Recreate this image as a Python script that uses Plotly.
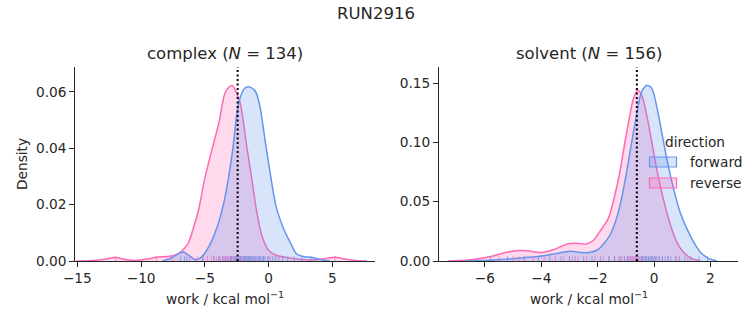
import plotly.graph_objects as go

# ---------------- data ----------------
# KDE curves (work in kcal/mol, density)
cf_x = [-8.3, -7.6, -7.0, -6.7, -6.3, -5.75, -5.4, -5.1, -4.5, -4.0, -3.55, -3.15, -2.8, -2.5,
        -2.25, -1.9, -1.6, -1.3, -1.05, -0.7, -0.3, 0.1, 0.6, 1.15, 1.7, 2.2, 2.8, 3.3, 3.8, 4.3, 4.8]
cf_y = [0.0, 0.0012, 0.0028, 0.0032, 0.0022, 0.0005, 0.0009, 0.0022, 0.0068, 0.0125, 0.0199, 0.0294,
        0.040, 0.052, 0.0577, 0.0612, 0.0618, 0.0613, 0.0603, 0.0553, 0.0435, 0.0318, 0.0190, 0.0117,
        0.0065, 0.0025, 0.0015, 0.0013, 0.0008, 0.0003, 0.0]

cr_x = [-15.1, -14.0, -13.0, -12.0, -11.2, -10.4, -9.5, -8.8, -8.0, -7.5, -7.0, -6.6, -6.3, -5.9,
        -5.5, -5.0, -4.35, -3.9, -3.43, -3.1, -2.85, -2.6, -2.3, -2.1, -1.73, -1.33, -0.94, -0.55,
        -0.05, 0.5, 0.9, 1.5, 2.2, 3.0, 3.8, 4.5, 5.2, 6.0, 6.8, 7.7]
cr_y = [0.0, 0.0001, 0.0005, 0.0012, 0.0005, 0.0002, 0.0007, 0.0013, 0.0016, 0.0019, 0.0028, 0.0045,
        0.0063, 0.0117, 0.018, 0.0294, 0.0412, 0.049, 0.0595, 0.0617, 0.0622, 0.0605, 0.0572, 0.053,
        0.041, 0.0294, 0.0176, 0.0093, 0.004, 0.0022, 0.0017, 0.0012, 0.0007, 0.0004, 0.0005, 0.0009,
        0.0013, 0.0007, 0.0002, 0.0]

sf_x = [-6.7, -6.0, -5.47, -5.0, -4.64, -4.05, -3.46, -2.98, -2.6, -2.3, -2.0, -1.86, -1.56, -1.33,
        -1.15, -0.97, -0.79, -0.62, -0.44, -0.26, -0.08, 0.09, 0.27, 0.45, 0.69, 0.92, 1.16, 1.4,
        1.63, 1.93, 2.23]
sf_y = [0.0, 0.0004, 0.0012, 0.0020, 0.0028, 0.0040, 0.0064, 0.0082, 0.0072, 0.0072, 0.0095, 0.0125,
        0.0219, 0.036, 0.0528, 0.0753, 0.1005, 0.123, 0.1427, 0.148, 0.1455, 0.131, 0.109, 0.0865,
        0.0612, 0.0416, 0.0275, 0.0163, 0.0079, 0.0022, 0.0]

sr_x = [-7.3, -6.9, -6.42, -5.71, -5.2, -4.8, -4.5, -4.0, -3.6, -3.1, -2.75, -2.4, -2.15, -1.92,
        -1.62, -1.39, -1.21, -1.03, -0.88, -0.73, -0.58, -0.44, -0.26, -0.08, 0.09, 0.27, 0.51,
        0.75, 0.98, 1.28, 1.63]
sr_y = [0.0, 0.0004, 0.0012, 0.0042, 0.0075, 0.0088, 0.0086, 0.0071, 0.0092, 0.0142, 0.0149, 0.0143,
        0.0175, 0.025, 0.036, 0.0556, 0.0753, 0.1005, 0.12, 0.137, 0.144, 0.140, 0.123, 0.1005,
        0.078, 0.0584, 0.036, 0.0191, 0.0093, 0.0028, 0.0]

# rug samples (approximate positions)
cf_rug = [-6.9, -6.6, -6.4, -5.2, -4.3, -3.9, -3.6, -3.4, -3.2, -3.0, -2.9, -2.7, -2.6, -2.5, -2.4,
          -2.3, -2.2, -2.1, -2.0, -1.9, -1.85, -1.8, -1.7, -1.65, -1.6, -1.55, -1.5, -1.4, -1.35,
          -1.3, -1.2, -1.1, -1.0, -0.9, -0.8, -0.7, -0.6, -0.5, -0.4, -0.3, -0.1, 0.1, 0.3, 0.5,
          0.8, 1.1, 1.5, 2.0, 2.6, 3.3]
cr_rug = [-12.0, -8.8, -7.6, -6.2, -5.6, -5.1, -4.8, -4.5, -4.3, -4.1, -3.9, -3.8, -3.6, -3.5, -3.4,
          -3.3, -3.2, -3.1, -3.0, -2.95, -2.9, -2.85, -2.8, -2.7, -2.65, -2.6, -2.5, -2.4, -2.3,
          -2.2, -2.1, -2.0, -1.9, -1.8, -1.6, -1.4, -1.2, -1.0, -0.7, -0.4, 0.0, 0.6, 5.2]
sf_rug = [-5.8, -5.2, -4.6, -4.1, -3.7, -3.3, -3.0, -2.8, -2.5, -2.2, -1.9, -1.6, -1.4, -1.2, -1.05,
          -0.95, -0.85, -0.75, -0.65, -0.55, -0.45, -0.4, -0.35, -0.3, -0.25, -0.2, -0.15, -0.1,
          -0.05, 0.0, 0.05, 0.1, 0.2, 0.3, 0.4, 0.5, 0.6, 0.75, 0.9, 1.1, 1.3, 1.6, 1.9]
sr_rug = [-5.5, -5.0, -4.8, -4.6, -4.3, -3.9, -3.5, -3.2, -3.0, -2.9, -2.7, -2.4, -2.1, -1.8, -1.6,
          -1.4, -1.25, -1.15, -1.05, -0.95, -0.9, -0.85, -0.8, -0.75, -0.7, -0.65, -0.6, -0.55,
          -0.5, -0.45, -0.4, -0.3, -0.2, -0.1, 0.0, 0.15, 0.3, 0.5, 0.8, 1.2]

# dotted reference lines
complex_ref = -2.43
solvent_ref = -0.61

titles = ["complex (<i>N</i> = 134)", "solvent (<i>N</i> = 156)"]
suptitle = "RUN2916"
xlabel = "work / kcal mol<sup>−1</sup>"
ylabel = "Density"
series_names = ["forward", "reverse"]

# ---------------- styling ----------------
BLUE = "#6495ED"
PINK = "#FF69B4"
BLUE_F = "rgba(100,149,237,0.25)"
PINK_F = "rgba(255,105,180,0.25)"
TXT = "#262626"
FONT = "DejaVu Sans"
FS = 13.7

W, H = 753, 325
xd1 = [75.3 / W, 375 / W]
xd2 = [439 / W, 738 / W]
yd = [64 / H, 258 / H]
xr1 = [-15.16, 8.34]
xr2 = [-7.63, 2.98]
yr1 = [0, 0.0688]
yr2 = [0, 0.1635]

fig = go.Figure()


def add_kde(x, y, color, fill, name, xa, ya):
    fig.add_trace(go.Scatter(x=x, y=y, mode="lines", line=dict(color=color, width=1.5, shape="spline", smoothing=0.8),
                             fill="tozeroy", fillcolor=fill, name=name, showlegend=False,
                             xaxis=xa, yaxis=ya, hoverinfo="skip"))


def add_rug(vals, color, h, xa, ya):
    xs, ys = [], []
    for v in vals:
        xs += [v, v, None]
        ys += [0, h, None]
    fig.add_trace(go.Scatter(x=xs, y=ys, mode="lines", line=dict(color=color, width=1),
                             opacity=0.7, showlegend=False, xaxis=xa, yaxis=ya, hoverinfo="skip"))


# complex panel: reverse first, then forward on top
add_kde(cr_x, cr_y, PINK, PINK_F, series_names[1], "x", "y")
add_kde(cf_x, cf_y, BLUE, BLUE_F, series_names[0], "x", "y")
add_rug(cr_rug, PINK, 0.025 * yr1[1], "x", "y")
add_rug(cf_rug, BLUE, 0.025 * yr1[1], "x", "y")
# solvent panel
add_kde(sr_x, sr_y, PINK, PINK_F, series_names[1], "x2", "y2")
add_kde(sf_x, sf_y, BLUE, BLUE_F, series_names[0], "x2", "y2")
add_rug(sr_rug, PINK, 0.025 * yr2[1], "x2", "y2")
add_rug(sf_rug, BLUE, 0.025 * yr2[1], "x2", "y2")

axis_common = dict(showline=True, linecolor=TXT, linewidth=1.1, ticks="outside", ticklen=5, tickwidth=1.1,
                   tickcolor=TXT, showgrid=False, zeroline=False, mirror=False, automargin=False,
                   tickfont=dict(family=FONT, size=FS, color=TXT))

fig.update_layout(
    width=W, height=H, margin=dict(l=0, r=0, t=0, b=0, autoexpand=False),
    paper_bgcolor="white", plot_bgcolor="white", showlegend=False,
    xaxis=dict(domain=xd1, range=xr1, tickvals=[-15, -10, -5, 0, 5], anchor="y", **axis_common),
    yaxis=dict(domain=yd, range=yr1, tickvals=[0, 0.02, 0.04, 0.06], tickformat=".2f", anchor="x", **axis_common),
    xaxis2=dict(domain=xd2, range=xr2, tickvals=[-6, -4, -2, 0, 2], anchor="y2", **axis_common),
    yaxis2=dict(domain=yd, range=yr2, tickvals=[0, 0.05, 0.10, 0.15], tickformat=".2f", anchor="x2", **axis_common),
    font=dict(family=FONT, size=FS, color=TXT),
)

# dotted reference lines
for xa, ya, xv in [("x", "y", complex_ref), ("x2", "y2", solvent_ref)]:
    fig.add_shape(type="line", xref=xa, yref=ya + " domain", x0=xv, x1=xv, y0=0, y1=1,
                  line=dict(color="black", width=2, dash="2px,2.5px"), layer="above")

# legend drawn as patches + text (matplotlib-style)
fig.add_annotation(text="direction", x=695 / W, y=1 - 142 / H, xref="paper", yref="paper", showarrow=False,
                   xanchor="center", yanchor="middle", font=dict(family=FONT, size=FS, color=TXT))
for i, (name, col, fc) in enumerate(zip(series_names, [BLUE, PINK], [BLUE_F, PINK_F])):
    yc = 162 + 21 * i
    fig.add_shape(type="rect", xref="paper", yref="paper", x0=649.5 / W, x1=676.5 / W,
                  y0=1 - (yc + 5) / H, y1=1 - (yc - 5) / H, line=dict(color=col, width=1.2), fillcolor=fc)
    fig.add_annotation(text=name, x=688 / W, y=1 - yc / H, xref="paper", yref="paper", showarrow=False,
                       xanchor="left", yanchor="middle", font=dict(family=FONT, size=FS, color=TXT))

# titles and labels
fig.add_annotation(text=suptitle, x=376 / W, y=1 - 13 / H, xref="paper", yref="paper", showarrow=False,
                   xanchor="center", yanchor="middle", font=dict(family=FONT, size=16.5, color=TXT))
for t, cx in zip(titles, [(xd1[0] + xd1[1]) / 2, (xd2[0] + xd2[1]) / 2]):
    fig.add_annotation(text=t, x=cx, y=1 - 54 / H, xref="paper", yref="paper", showarrow=False,
                       xanchor="center", yanchor="middle", font=dict(family=FONT, size=16.5, color=TXT))
    fig.add_annotation(text=xlabel, x=cx, y=1 - 298 / H, xref="paper", yref="paper", showarrow=False,
                       xanchor="center", yanchor="middle", font=dict(family=FONT, size=FS, color=TXT))
fig.add_annotation(text=ylabel, x=22 / W, y=1 - 164 / H, xref="paper", yref="paper", showarrow=False,
                   textangle=-90, xanchor="center", yanchor="middle", font=dict(family=FONT, size=FS, color=TXT))

fig.write_html("out.html")
